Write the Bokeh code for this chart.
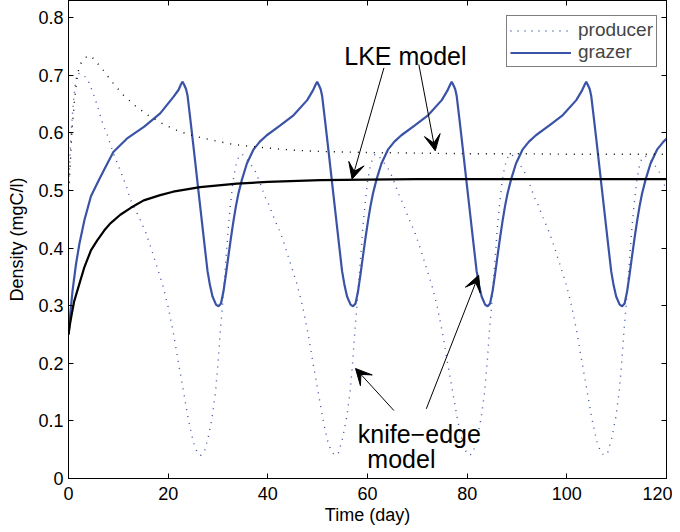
from bokeh.plotting import figure
from bokeh.models import (Range1d, LinearAxis, FixedTicker, CustomJSTickFormatter,
                          Legend, LegendItem, Arrow, VeeHead, Label)
from bokeh.embed import file_html
from bokeh.resources import INLINE

# ---------------- data ----------------
# knife-edge model, producer (blue dotted)
ke_producer_t = [
    0.0, 0.3, 0.6, 1.0, 1.4, 1.8, 2.7, 3.8, 4.4, 5.0, 5.5, 6.0, 6.5, 7.0, 7.7, 9.0, 10.0, 11.7, 12.4, 13.0,
    14.3, 15.5, 16.5, 17.7, 18.9, 20.0, 21.0, 22.0, 23.0, 24.0, 25.0, 25.8, 26.5,
    27.2, 28.0, 28.8, 29.5, 30.0, 30.5, 30.9, 31.3, 31.7, 32.1, 32.5, 33.0, 33.5, 34.0, 34.5, 35.0, 35.5,
    36.5, 37.5, 38.5, 39.5, 40.0,
    41.3, 42.5, 43.5, 44.7, 45.9, 47.0, 48.0, 49.0, 50.0, 51.0, 52.0, 52.8, 53.5,
    54.2, 55.0, 55.8, 56.5, 57.0, 57.5, 57.9, 58.3, 58.7, 59.1, 59.5, 60.0, 60.5, 61.0, 61.5, 62.0, 62.5,
    63.5, 64.5, 65.5, 66.5, 67.0,
    68.3, 69.5, 70.5, 71.7, 72.9, 74.0, 75.0, 76.0, 77.0, 78.0, 79.0, 79.8, 80.5,
    81.2, 82.0, 82.8, 83.5, 84.0, 84.5, 84.9, 85.3, 85.7, 86.1, 86.5, 87.0, 87.5, 88.0, 88.5, 89.0, 89.5,
    90.5, 91.5, 92.5, 93.5, 94.0,
    95.3, 96.5, 97.5, 98.7, 99.9, 101.0, 102.0, 103.0, 104.0, 105.0, 106.0, 106.8, 107.5,
    108.2, 109.0, 109.8, 110.5, 111.0, 111.5, 111.9, 112.3, 112.7, 113.1, 113.5, 114.0, 114.5, 115.0, 115.5,
    116.0, 116.5, 117.5, 118.5, 119.5, 120.0,
]
ke_producer_y = [
    0.50, 0.56, 0.61, 0.655, 0.688, 0.704, 0.702, 0.694, 0.681, 0.668, 0.655, 0.641, 0.627, 0.613, 0.599, 0.565, 0.543, 0.505, 0.485, 0.474,
    0.451, 0.427, 0.402, 0.369, 0.336, 0.298, 0.255, 0.204, 0.155, 0.105, 0.065, 0.046, 0.040,
    0.045, 0.070, 0.105, 0.150, 0.200, 0.260, 0.300, 0.348, 0.393, 0.440, 0.475, 0.515, 0.540, 0.555, 0.563, 0.562, 0.557,
    0.546, 0.533, 0.512, 0.488, 0.480,
    0.451, 0.427, 0.402, 0.369, 0.336, 0.298, 0.255, 0.204, 0.155, 0.105, 0.065, 0.046, 0.040,
    0.045, 0.070, 0.105, 0.150, 0.200, 0.260, 0.300, 0.348, 0.393, 0.440, 0.475, 0.515, 0.540, 0.555, 0.563, 0.562, 0.557,
    0.546, 0.533, 0.512, 0.488, 0.480,
    0.451, 0.427, 0.402, 0.369, 0.336, 0.298, 0.255, 0.204, 0.155, 0.105, 0.065, 0.046, 0.040,
    0.045, 0.070, 0.105, 0.150, 0.200, 0.260, 0.300, 0.348, 0.393, 0.440, 0.475, 0.515, 0.540, 0.555, 0.563, 0.562, 0.557,
    0.546, 0.533, 0.512, 0.488, 0.480,
    0.451, 0.427, 0.402, 0.369, 0.336, 0.298, 0.255, 0.204, 0.155, 0.105, 0.065, 0.046, 0.040,
    0.045, 0.070, 0.105, 0.150, 0.200, 0.260, 0.300, 0.348, 0.393, 0.440, 0.475, 0.515, 0.540, 0.555, 0.560, 0.559,
    0.555, 0.546, 0.533, 0.512, 0.500,
]

# knife-edge model, grazer (blue solid)
ke_grazer_t = [
    0.0, 0.4, 0.8, 1.5, 2.2, 3.2, 4.5, 5.8, 7.2, 9.0, 11.7, 15.2, 18.4, 21.1, 22.1, 22.6, 22.9,
    23.3, 23.6, 23.9, 24.5, 25.2, 25.9, 26.6, 27.2, 27.9, 28.4, 28.9, 29.6, 30.1,
    30.6, 31.1, 31.6, 32.1, 32.6, 33.1, 33.6, 34.1, 34.8, 35.8, 37.1, 38.4, 39.8, 42.5, 45.2, 47.9, 49.0, 49.6, 49.9,
    50.3, 50.6, 50.9, 51.5, 52.2, 52.9, 53.6, 54.2, 54.9, 55.4, 55.9, 56.6, 57.1,
    57.6, 58.1, 58.6, 59.1, 59.6, 60.1, 60.6, 61.1, 61.8, 62.8, 64.1, 65.4, 66.8, 69.5, 72.2, 74.9, 76.0, 76.6, 76.9,
    77.3, 77.6, 77.9, 78.5, 79.2, 79.9, 80.6, 81.2, 81.9, 82.4, 82.9, 83.6, 84.1,
    84.6, 85.1, 85.6, 86.1, 86.6, 87.1, 87.6, 88.1, 88.8, 89.8, 91.1, 92.4, 93.8, 96.5, 99.2, 101.9, 103.0, 103.6, 103.9,
    104.3, 104.6, 104.9, 105.5, 106.2, 106.9, 107.6, 108.2, 108.9, 109.4, 109.9, 110.6, 111.1,
    111.6, 112.1, 112.6, 113.1, 113.6, 114.1, 114.6, 115.1, 115.8, 116.8, 118.1, 119.4, 120.0,
]
ke_grazer_y = [
    0.25, 0.29, 0.325, 0.372, 0.408, 0.449, 0.49, 0.513, 0.537, 0.567, 0.59, 0.611, 0.634, 0.663, 0.675, 0.685, 0.689,
    0.682, 0.676, 0.664, 0.620, 0.567, 0.513, 0.459, 0.413, 0.360, 0.335, 0.316, 0.302, 0.299,
    0.304, 0.325, 0.355, 0.387, 0.418, 0.447, 0.473, 0.495, 0.519, 0.547, 0.571, 0.585, 0.596, 0.613, 0.631, 0.657, 0.673, 0.684, 0.689,
    0.682, 0.676, 0.664, 0.620, 0.567, 0.513, 0.459, 0.413, 0.360, 0.335, 0.316, 0.302, 0.299,
    0.304, 0.325, 0.355, 0.387, 0.418, 0.447, 0.473, 0.495, 0.519, 0.547, 0.571, 0.585, 0.596, 0.613, 0.631, 0.657, 0.673, 0.684, 0.689,
    0.682, 0.676, 0.664, 0.620, 0.567, 0.513, 0.459, 0.413, 0.360, 0.335, 0.316, 0.302, 0.299,
    0.304, 0.325, 0.355, 0.387, 0.418, 0.447, 0.473, 0.495, 0.519, 0.547, 0.571, 0.585, 0.596, 0.613, 0.631, 0.657, 0.673, 0.684, 0.689,
    0.682, 0.676, 0.664, 0.620, 0.567, 0.513, 0.459, 0.413, 0.360, 0.335, 0.316, 0.302, 0.299,
    0.304, 0.325, 0.355, 0.387, 0.418, 0.447, 0.473, 0.495, 0.519, 0.547, 0.571, 0.585, 0.590,
]

# LKE model, producer (black dotted)
lke_producer_t = [0.0, 0.15, 0.35, 0.5, 0.6, 0.8, 1.0, 1.2, 1.5, 1.8, 2.2, 3.0, 3.6, 4.5, 5.7, 6.7, 8.7,
                  11.0, 13.4, 16.1, 19.1, 22.1, 25.1, 28.5, 33.1, 38.5, 45.2, 50.0, 60.0, 70.0, 80.0,
                  90.0, 100.0, 110.0, 120.0]
lke_producer_y = [0.50, 0.516, 0.546, 0.572, 0.59, 0.616, 0.635, 0.655, 0.68, 0.70, 0.717, 0.728, 0.732, 0.734,
                  0.722, 0.712, 0.689, 0.666, 0.647, 0.63, 0.615, 0.603, 0.595, 0.588, 0.58, 0.575, 0.57,
                  0.568, 0.566, 0.565, 0.564, 0.564, 0.563, 0.563, 0.563]

# LKE model, grazer (black solid)
lke_grazer_t = [0.0, 0.3, 0.6, 1.15, 2.15, 3.15, 4.5, 5.8, 7.2, 8.4, 10.4, 12.5, 15.1, 18.4, 21.0, 26.4,
                33.8, 40.0, 50.5, 60.0, 70.0, 80.0, 100.0, 120.0]
lke_grazer_y = [0.25, 0.268, 0.283, 0.308, 0.337, 0.366, 0.396, 0.414, 0.431, 0.443, 0.458, 0.47, 0.483,
                0.492, 0.498, 0.506, 0.512, 0.515, 0.518, 0.519, 0.52, 0.52, 0.52, 0.52]

x_ticks = [0, 20, 40, 60, 80, 100, 120]
y_ticks = [0, 0.1, 0.2, 0.3, 0.4, 0.5, 0.6, 0.7, 0.8]
legend_labels = ["producer", "grazer"]

# ---------------- figure ----------------
FONT = "Liberation Sans"
BLUE = "#3a53a6"

p = figure(width=672, height=530, output_backend="svg", toolbar_location=None,
           x_range=Range1d(0, 120), y_range=Range1d(0, 0.83),
           min_border_left=68, min_border_right=6, min_border_top=0, min_border_bottom=52,
           x_axis_label="Time (day)", y_axis_label="Density (mgC/l)")
p.xgrid.visible = False
p.ygrid.visible = False
p.outline_line_color = "black"
p.outline_line_width = 1
p.background_fill_color = "white"
p.border_fill_color = "white"

yfmt = CustomJSTickFormatter(code="return tick == 0 ? '0' : tick.toFixed(1);")

def style_axis(ax, ticks, show_labels):
    ax.ticker = FixedTicker(ticks=ticks)
    ax.major_tick_in = 5
    ax.major_tick_out = 0
    ax.minor_tick_line_color = None
    ax.axis_line_color = "black"
    ax.major_tick_line_color = "black"
    ax.major_label_text_font = FONT
    ax.major_label_text_font_size = "18px"
    ax.major_label_text_color = "black" if show_labels else None
    ax.axis_label_text_font = FONT
    ax.axis_label_text_font_size = "18px"
    ax.axis_label_text_font_style = "normal"
    ax.axis_label_text_color = "black"

style_axis(p.xaxis[0], x_ticks, True)
style_axis(p.yaxis[0], y_ticks, True)
p.yaxis[0].formatter = yfmt
p.xaxis[0].major_label_standoff = 8
p.xaxis[0].axis_label_standoff = 2
p.yaxis[0].major_label_standoff = 5
p.yaxis[0].axis_label_standoff = 8

top_ax = LinearAxis()
right_ax = LinearAxis()
style_axis(top_ax, x_ticks, False)
style_axis(right_ax, y_ticks, False)
top_ax.major_label_text_font_size = "0px"
right_ax.major_label_text_font_size = "0px"
top_ax.major_label_standoff = 0
right_ax.major_label_standoff = 0
p.add_layout(top_ax, "above")
p.add_layout(right_ax, "right")

# ---------------- curves ----------------
r_prod = p.line(ke_producer_t, ke_producer_y, line_color=BLUE, line_width=1.4, line_dash="1 6")
r_graz = p.line(ke_grazer_t, ke_grazer_y, line_color=BLUE, line_width=2.2)
p.line(lke_producer_t, lke_producer_y, line_color="black", line_width=1.4, line_dash="1 7")
p.line(lke_grazer_t, lke_grazer_y, line_color="black", line_width=2.2)

legend = Legend(items=[LegendItem(label=legend_labels[0], renderers=[r_prod]),
                       LegendItem(label=legend_labels[1], renderers=[r_graz])],
                location=(438, 411), margin=0)
legend.label_text_font = FONT
legend.label_text_font_size = "19px"
legend.border_line_color = "black"
legend.border_line_width = 1
legend.background_fill_alpha = 1
legend.padding = 3
legend.spacing = 0
legend.label_height = 17
legend.glyph_height = 17
legend.glyph_width = 61
legend.label_standoff = 7
p.add_layout(legend)

# ---------------- annotations ----------------
def arrow(x0, y0, x1, y1):
    p.add_layout(Arrow(end=VeeHead(size=16, fill_color="black", line_color="black"),
                       x_start=x0, y_start=y0, x_end=x1, y_end=y1,
                       line_color="black", line_width=1))

arrow(63.3, 0.713, 56.9, 0.52)
arrow(70.3, 0.719, 73.6, 0.569)
arrow(65.3, 0.118, 57.6, 0.191)
arrow(71.8, 0.121, 82.3, 0.353)

for txt, x, y in [("LKE model", 67.6, 0.733), ("knife\u2212edge", 70.4, 0.077), ("model", 66.8, 0.034)]:
    p.add_layout(Label(x=x, y=y, text=txt, text_align="center", text_baseline="alphabetic",
                       text_font=FONT, text_font_size="25px", text_color="black"))

open("out.html", "w").write(file_html(p, INLINE))
